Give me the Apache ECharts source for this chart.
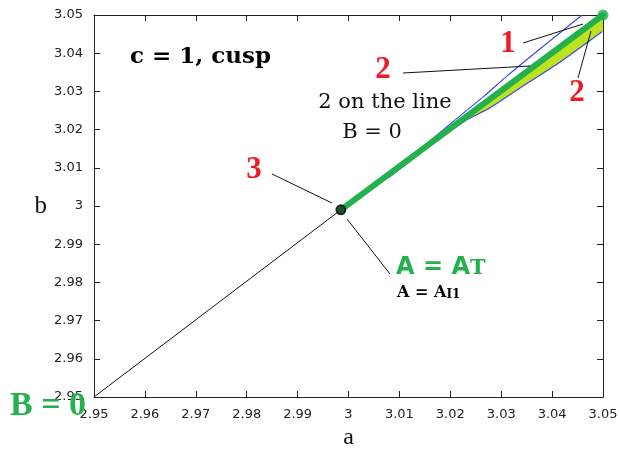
<!DOCTYPE html>
<html>
<head>
<meta charset="utf-8">
<script src="https://cdn.jsdelivr.net/npm/echarts@6/dist/echarts.min.js"></script>
<style>
  html, body { margin: 0; padding: 0; background: #fff; }
  #chart { width: 620px; height: 449px; }
</style>
</head>
<body>
<div id="chart"></div>
<script>
// Axis ranges (a horizontal, b vertical)
const aRange = [2.95, 3.05];
const bRange = [2.95, 3.05];
const tickStep = 0.01;

// Thin black diagonal leading into point 3
const blackLine = [[2.95, 2.95], [2.9985, 2.999]];
// Thick green curve A = A_T from point 3 up to the corner
const greenLine = [[2.9985, 2.999], [3.05, 3.05]];
// Point 3
const point3 = [[2.9985, 2.999]];
// End of the green curve
const greenEnd = [[3.05, 3.05]];
// Upper blue branch
const blueUpper = [
  [3.008, 3.0085], [3.016, 3.0170], [3.0219, 3.0236], [3.0264, 3.0285],
  [3.0311, 3.0340], [3.0376, 3.0411], [3.0459, 3.05]
];
// Lower blue branch
const blueLower = [
  [3.008, 3.0075], [3.016, 3.0157], [3.0229, 3.02225], [3.0278, 3.0257],
  [3.0337, 3.0309], [3.0416, 3.0377], [3.0498, 3.0456]
];
// Yellow band between the green curve and the lower blue branch
const yellowBand = [
  [3.0240, 3.0235], [3.05, 3.05], [3.05, 3.0456], [3.0498, 3.0456],
  [3.0416, 3.0377], [3.0337, 3.0309], [3.0278, 3.0257], [3.0240, 3.0230]
];

const GREEN = '#22b14c';
const RED = '#ed1c24';
const BLUE = '#3f48e8';
const YELLOW = '#bde31f';
const AXIS = '#222';

const chart = echarts.init(document.getElementById('chart'), null, { renderer: 'canvas' });

const fmt = v => String(+(+v).toFixed(2));

function axisBase(show) {
  return {
    type: 'value',
    min: aRange[0], max: aRange[1], interval: tickStep,
    axisLine: { show: true, onZero: false, lineStyle: { color: AXIS, width: 1 } },
    axisTick: { show: true, inside: true, length: 6, lineStyle: { color: AXIS } },
    splitLine: { show: false },
    axisLabel: show
      ? { show: true, formatter: fmt, color: '#222', fontFamily: 'DejaVu Sans', fontSize: 13 }
      : { show: false }
  };
}

const serifFont = "'Liberation Serif', 'DejaVu Serif', serif";
const dvSerif = "'DejaVu Serif', serif";

function label(text, x, y, font, fill, align) {
  return {
    type: 'text', x: x, y: y, z: 10,
    style: { text: text, font: font, fill: fill, align: align || 'center', verticalAlign: 'middle' }
  };
}

function leader(x1, y1, x2, y2) {
  return { type: 'line', shape: { x1: x1, y1: y1, x2: x2, y2: y2 }, style: { stroke: '#111', lineWidth: 1 }, z: 10 };
}

const option = {
  animation: false,
  backgroundColor: '#fff',
  grid: { left: 94, right: 17, top: 15, bottom: 52, containLabel: false, outerBoundsMode: 'none' },
  xAxis: [
    Object.assign(axisBase(true), {
      position: 'bottom',
      name: 'a', nameLocation: 'middle', nameGap: 27,
      nameTextStyle: { fontFamily: serifFont, fontSize: 24, color: '#111' },
      axisLabel: { show: true, formatter: fmt, color: '#222', fontFamily: 'DejaVu Sans', fontSize: 13, margin: 11 }
    }),
    Object.assign(axisBase(false), { position: 'top' })
  ],
  yAxis: [
    Object.assign(axisBase(true), {
      min: bRange[0], max: bRange[1],
      position: 'left',
      name: 'b', nameLocation: 'middle', nameGap: 47, nameRotate: 0,
      nameTextStyle: { fontFamily: serifFont, fontSize: 25, color: '#111' },
      axisLabel: { show: true, formatter: fmt, color: '#222', fontFamily: 'DejaVu Sans', fontSize: 13, margin: 11 }
    }),
    Object.assign(axisBase(false), { min: bRange[0], max: bRange[1], position: 'right' })
  ],
  series: [
    {
      type: 'custom',
      renderItem: function (params, api) {
        if (params.dataIndex !== 0) return;
        const pts = yellowBand.map(p => api.coord(p));
        return {
          type: 'polygon',
          shape: { points: pts },
          style: { fill: YELLOW, stroke: null }
        };
      },
      data: [0],
      z: 1,
      silent: true
    },
    {
      type: 'line', data: blueUpper, showSymbol: false, smooth: 0.2,
      lineStyle: { color: BLUE, width: 1.2 }, z: 2, silent: true
    },
    {
      type: 'line', data: blueLower, showSymbol: false, smooth: 0.2,
      lineStyle: { color: BLUE, width: 1.2 }, z: 2, silent: true
    },
    {
      type: 'line', data: blackLine, showSymbol: false,
      lineStyle: { color: '#111', width: 1 }, z: 2, silent: true
    },
    {
      type: 'line', data: greenLine, showSymbol: false,
      lineStyle: { color: GREEN, width: 6, cap: 'round' }, z: 3, silent: true
    },
    {
      type: 'scatter', data: greenEnd, symbol: 'circle', symbolSize: 11,
      itemStyle: { color: GREEN }, z: 4, silent: true
    },
    {
      type: 'scatter', data: point3, symbol: 'circle', symbolSize: 9,
      itemStyle: { color: '#0b3d18', borderColor: '#000', borderWidth: 2 }, z: 5, silent: true
    }
  ],
  graphic: [
    // leader lines
    leader(523, 43, 583, 24),
    leader(403, 73, 530, 66),
    leader(578, 78, 591, 31),
    leader(272, 174, 332, 203),
    leader(347, 219, 390, 274),
    // title
    label('c = 1, cusp', 130, 57, "bold 23px " + dvSerif, '#000', 'left'),
    // red labels
    label('1', 508, 44, "bold 31px " + serifFont, RED),
    label('2', 383, 70, "bold 31px " + serifFont, RED),
    label('2', 577, 93, "bold 31px " + serifFont, RED),
    label('3', 254, 170, "bold 31px " + serifFont, RED),
    // note
    label('2 on the line', 385, 103, "21px " + dvSerif, '#111'),
    label('B = 0', 372, 133, "21px " + dvSerif, '#111'),
    // A = A_T
    { type: 'text', x: 396, y: 264, z: 10,
      style: {
        text: '{m|A = A}{s|T}',
        verticalAlign: 'middle',
        rich: {
          m: { font: "bold 24px 'DejaVu Sans'", fill: GREEN, verticalAlign: 'bottom' },
          s: { font: "bold 21px " + dvSerif, fill: GREEN, padding: [10, 0, 0, 0], verticalAlign: 'bottom' }
        }
      } },
    // A = A_I1
    { type: 'text', x: 397, y: 292, z: 10,
      style: {
        text: '{m|A = A}{s|I1}',
        verticalAlign: 'middle',
        rich: {
          m: { font: "bold 16px " + dvSerif, fill: '#000', verticalAlign: 'bottom' },
          s: { font: "bold 12px " + dvSerif, fill: '#000', padding: [5, 0, 0, 0], verticalAlign: 'bottom' }
        }
      } },
    // B = 0 corner label
    Object.assign(label('B = 0', 48, 406, "bold 34px " + serifFont, GREEN), { z: 20 })
  ]
};

chart.setOption(option);
</script>
</body>
</html>
